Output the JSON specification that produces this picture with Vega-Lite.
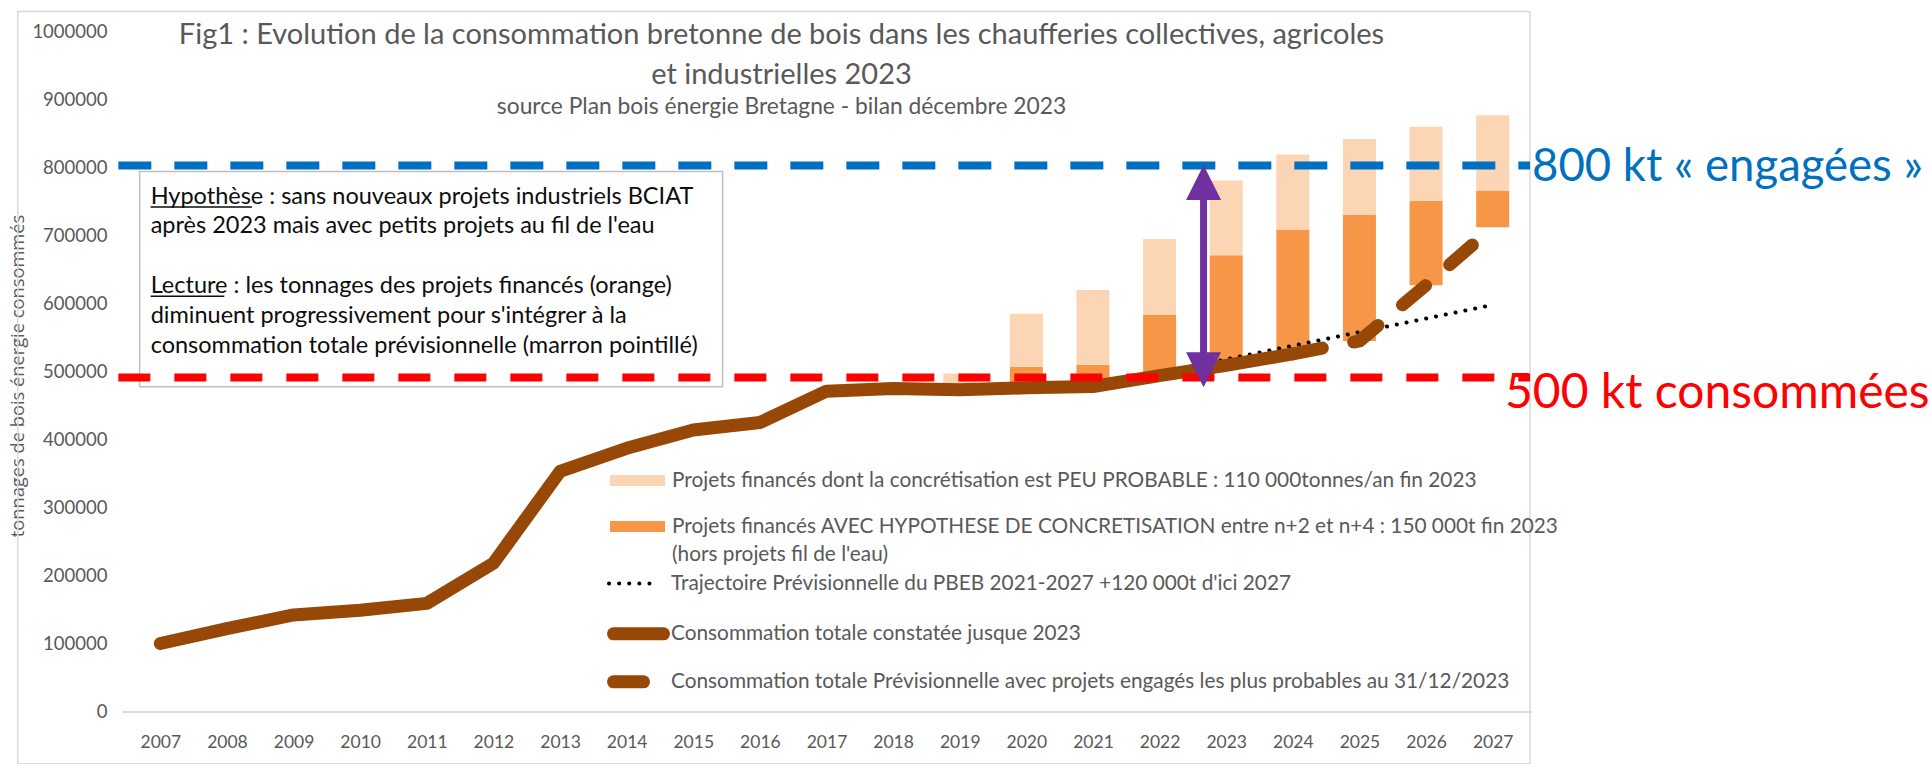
{
  "$schema": "https://vega.github.io/schema/vega-lite/v6.json",
  "width": 1409,
  "height": 680,
  "autosize": {"type": "none"},
  "padding": {"left": 122, "top": 31.5, "right": 400, "bottom": 52.5},
  "background": "white",
  "config": {"view": {"stroke": null}, "font": "Lato"},
  "title": {
    "text": ["Fig1 : Evolution de la consommation bretonne de bois dans les chaufferies collectives, agricoles", "et industrielles 2023"],
    "subtitle": "source Plan bois énergie Bretagne - bilan décembre 2023",
    "anchor": "middle",
    "frame": "group",
    "orient": "top",
    "offset": -108,
    "dx": -45,
    "font": "Lato",
    "fontSize": 29,
    "fontWeight": "normal",
    "color": "#595959",
    "lineHeight": 40.4,
    "subtitleFont": "Lato",
    "subtitleFontSize": 22.8,
    "subtitleColor": "#595959",
    "subtitlePadding": 5.6
  },
  "datasets": {
    "bars": [
      {"year": 2019, "series": "Projets financés dont la concrétisation est PEU PROBABLE : 110 000tonnes/an fin 2023", "low": 473000, "high": 497000},
      {"year": 2020, "series": "Projets financés AVEC HYPOTHESE DE CONCRETISATION entre n+2 et n+4  : 150 000t fin 2023", "low": 476000, "high": 507000},
      {"year": 2020, "series": "Projets financés dont la concrétisation est PEU PROBABLE : 110 000tonnes/an fin 2023", "low": 507000, "high": 585000},
      {"year": 2021, "series": "Projets financés AVEC HYPOTHESE DE CONCRETISATION entre n+2 et n+4  : 150 000t fin 2023", "low": 478000, "high": 510000},
      {"year": 2021, "series": "Projets financés dont la concrétisation est PEU PROBABLE : 110 000tonnes/an fin 2023", "low": 510000, "high": 620000},
      {"year": 2022, "series": "Projets financés AVEC HYPOTHESE DE CONCRETISATION entre n+2 et n+4  : 150 000t fin 2023", "low": 494000, "high": 583000},
      {"year": 2022, "series": "Projets financés dont la concrétisation est PEU PROBABLE : 110 000tonnes/an fin 2023", "low": 583000, "high": 695000},
      {"year": 2023, "series": "Projets financés AVEC HYPOTHESE DE CONCRETISATION entre n+2 et n+4  : 150 000t fin 2023", "low": 509000, "high": 671000},
      {"year": 2023, "series": "Projets financés dont la concrétisation est PEU PROBABLE : 110 000tonnes/an fin 2023", "low": 671000, "high": 781000},
      {"year": 2024, "series": "Projets financés AVEC HYPOTHESE DE CONCRETISATION entre n+2 et n+4  : 150 000t fin 2023", "low": 526000, "high": 709000},
      {"year": 2024, "series": "Projets financés dont la concrétisation est PEU PROBABLE : 110 000tonnes/an fin 2023", "low": 709000, "high": 819000},
      {"year": 2025, "series": "Projets financés AVEC HYPOTHESE DE CONCRETISATION entre n+2 et n+4  : 150 000t fin 2023", "low": 545000, "high": 730000},
      {"year": 2025, "series": "Projets financés dont la concrétisation est PEU PROBABLE : 110 000tonnes/an fin 2023", "low": 730000, "high": 842000},
      {"year": 2026, "series": "Projets financés AVEC HYPOTHESE DE CONCRETISATION entre n+2 et n+4  : 150 000t fin 2023", "low": 627000, "high": 751000},
      {"year": 2026, "series": "Projets financés dont la concrétisation est PEU PROBABLE : 110 000tonnes/an fin 2023", "low": 751000, "high": 860000},
      {"year": 2027, "series": "Projets financés AVEC HYPOTHESE DE CONCRETISATION entre n+2 et n+4  : 150 000t fin 2023", "low": 712000, "high": 766000},
      {"year": 2027, "series": "Projets financés dont la concrétisation est PEU PROBABLE : 110 000tonnes/an fin 2023", "low": 766000, "high": 877000}
    ],
    "trajectory": [
      {"year": 2021, "series": "Trajectoire Prévisionnelle du PBEB 2021-2027 +120 000t d'ici 2027", "value": 478000},
      {"year": 2022, "series": "Trajectoire Prévisionnelle du PBEB 2021-2027 +120 000t d'ici 2027", "value": 498000},
      {"year": 2023, "series": "Trajectoire Prévisionnelle du PBEB 2021-2027 +120 000t d'ici 2027", "value": 518000},
      {"year": 2024, "series": "Trajectoire Prévisionnelle du PBEB 2021-2027 +120 000t d'ici 2027", "value": 538000},
      {"year": 2025, "series": "Trajectoire Prévisionnelle du PBEB 2021-2027 +120 000t d'ici 2027", "value": 558000},
      {"year": 2026, "series": "Trajectoire Prévisionnelle du PBEB 2021-2027 +120 000t d'ici 2027", "value": 578000},
      {"year": 2027, "series": "Trajectoire Prévisionnelle du PBEB 2021-2027 +120 000t d'ici 2027", "value": 598000}
    ],
    "observed": [
      {"year": 2007, "series": "Consommation totale constatée jusque 2023", "value": 100000},
      {"year": 2008, "series": "Consommation totale constatée jusque 2023", "value": 122000},
      {"year": 2009, "series": "Consommation totale constatée jusque 2023", "value": 142000},
      {"year": 2010, "series": "Consommation totale constatée jusque 2023", "value": 149000},
      {"year": 2011, "series": "Consommation totale constatée jusque 2023", "value": 159000},
      {"year": 2012, "series": "Consommation totale constatée jusque 2023", "value": 218000},
      {"year": 2013, "series": "Consommation totale constatée jusque 2023", "value": 353000},
      {"year": 2014, "series": "Consommation totale constatée jusque 2023", "value": 387000},
      {"year": 2015, "series": "Consommation totale constatée jusque 2023", "value": 414000},
      {"year": 2016, "series": "Consommation totale constatée jusque 2023", "value": 425000},
      {"year": 2017, "series": "Consommation totale constatée jusque 2023", "value": 471000},
      {"year": 2018, "series": "Consommation totale constatée jusque 2023", "value": 475000},
      {"year": 2019, "series": "Consommation totale constatée jusque 2023", "value": 473000},
      {"year": 2020, "series": "Consommation totale constatée jusque 2023", "value": 476000},
      {"year": 2021, "series": "Consommation totale constatée jusque 2023", "value": 478000},
      {"year": 2022, "series": "Consommation totale constatée jusque 2023", "value": 494000},
      {"year": 2023, "series": "Consommation totale constatée jusque 2023", "value": 509000},
      {"year": 2024, "series": "Consommation totale constatée jusque 2023", "value": 526000}
    ],
    "forecast": [
      {"year": 2024, "series": "Consommation totale Prévisionnelle avec projets engagés les plus probables au 31/12/2023", "value": 526000},
      {"year": 2025, "series": "Consommation totale Prévisionnelle avec projets engagés les plus probables au 31/12/2023", "value": 545000},
      {"year": 2026, "series": "Consommation totale Prévisionnelle avec projets engagés les plus probables au 31/12/2023", "value": 627000},
      {"year": 2027, "series": "Consommation totale Prévisionnelle avec projets engagés les plus probables au 31/12/2023", "value": 712000}
    ]
  },
  "layer": [
    {
      "data": {"values": [{}]},
      "mark": {"type": "rect", "fill": null, "fillOpacity": 0, "stroke": "#D9D9D9", "strokeWidth": 1.5, "clip": false},
      "encoding": {
        "x": {"datum": 2004.86, "type": "quantitative"},
        "x2": {"datum": 2027.56},
        "y": {"datum": 1029400, "type": "quantitative"},
        "y2": {"datum": -77000}
      }
    },
    {
      "data": {"values": [{}]},
      "mark": {"type": "rect", "fill": "white", "stroke": "#BFBFBF", "strokeWidth": 1.5},
      "encoding": {
        "x": {"datum": 2006.69, "type": "quantitative"},
        "x2": {"datum": 2015.44},
        "y": {"datum": 794000, "type": "quantitative"},
        "y2": {"datum": 477600}
      }
    },
    {
      "data": {"name": "bars"},
      "mark": {"type": "bar", "size": 33},
      "encoding": {
        "x": {
          "field": "year", "type": "quantitative",
          "scale": {"domain": [2006.5, 2027.5], "nice": false, "zero": false},
          "axis": {
            "title": null,
            "values": [2007, 2008, 2009, 2010, 2011, 2012, 2013, 2014, 2015, 2016, 2017, 2018, 2019, 2020, 2021, 2022, 2023, 2024, 2025, 2026, 2027],
            "format": "d", "ticks": false, "grid": false,
            "domainColor": "#D9D9D9", "domainWidth": 2,
            "labelFont": "Lato", "labelFontSize": 17.5, "labelColor": "#595959",
            "labelPadding": 22, "labelFlush": false, "labelOverlap": false
          }
        },
        "y": {
          "field": "low", "type": "quantitative",
          "scale": {"domain": [0, 1000000], "nice": false},
          "axis": {
            "values": [0, 100000, 200000, 300000, 400000, 500000, 600000, 700000, 800000, 900000, 1000000],
            "format": "d", "domain": false, "ticks": false, "grid": false,
            "labelFont": "Lato", "labelFontSize": 18.5, "labelColor": "#595959", "labelPadding": 15,
            "title": "tonnages de bois énergie consommés",
            "titleFont": "Open Sans", "titleFontSize": 18.3, "titleFontWeight": "normal", "titleColor": "#595959",
            "titleX": -103.5, "titleY": 344, "titleAngle": -90, "titleBaseline": "middle", "titleAlign": "center"
          }
        },
        "y2": {"field": "high"},
        "fill": {
          "field": "series", "type": "nominal",
          "scale": {
            "domain": ["Projets financés dont la concrétisation est PEU PROBABLE : 110 000tonnes/an fin 2023", "Projets financés AVEC HYPOTHESE DE CONCRETISATION entre n+2 et n+4  : 150 000t fin 2023"],
            "range": ["#FCD5B5", "#F79646"]
          },
          "legend": {
            "title": null, "orient": "none", "legendX": 488, "legendY": 421.6,
            "symbolType": "M-1,-0.2H1V0.2H-1Z", "symbolSize": 3025, "symbolStrokeWidth": 0,
            "labelFont": "Lato", "labelFontSize": 20.8, "labelColor": "#595959",
            "labelLimit": 1300, "labelOffset": 7, "rowPadding": 8, "padding": 0,
            "labelExpr": "indexof(datum.label, 'AVEC') >= 0 ? [datum.label, \"(hors projets fil de l'eau)\"] : datum.label",
            "encode": {"labels": {"update": {"lineHeight": {"value": 28}}}}
          }
        }
      }
    },
    {
      "data": {"name": "trajectory"},
      "mark": {"type": "line", "strokeCap": "round", "strokeJoin": "round", "strokeWidth": 4, "strokeDash": [0.1, 9.9]},
      "encoding": {
        "x": {"field": "year", "type": "quantitative"},
        "y": {"field": "value", "type": "quantitative"},
        "color": {
          "field": "series", "type": "nominal",
          "scale": {"domain": ["Trajectoire Prévisionnelle du PBEB 2021-2027 +120 000t d'ici 2027"], "range": ["#000000"]},
          "legend": {
            "title": null, "orient": "none", "legendX": 485, "legendY": 525,
            "symbolType": "stroke", "symbolSize": 2500, "symbolStrokeWidth": 4, "symbolDash": [0.1, 10],
            "labelFont": "Lato", "labelFontSize": 20.8, "labelColor": "#595959",
            "labelLimit": 1300, "labelOffset": 10, "padding": 0,
            "encode": {"symbols": {"update": {"strokeCap": {"value": "round"}}}}
          }
        }
      }
    },
    {
      "data": {"name": "observed"},
      "mark": {"type": "line", "strokeCap": "round", "strokeJoin": "round", "strokeWidth": 13},
      "encoding": {
        "x": {"field": "year", "type": "quantitative"},
        "y": {"field": "value", "type": "quantitative"},
        "stroke": {
          "field": "series", "type": "nominal",
          "scale": {"domain": ["Consommation totale constatée jusque 2023"], "range": ["#974806"]},
          "legend": {
            "title": null, "orient": "none", "legendX": 485, "legendY": 570.8,
            "symbolType": "stroke", "symbolSize": 2500, "symbolStrokeWidth": 13,
            "labelFont": "Lato", "labelFontSize": 20.8, "labelColor": "#595959",
            "labelLimit": 1300, "labelOffset": 1, "padding": 0,
            "encode": {"symbols": {"update": {"strokeCap": {"value": "round"}}}}
          }
        }
      }
    },
    {
      "data": {"name": "forecast"},
      "mark": {"type": "line", "strokeCap": "round", "strokeJoin": "round", "strokeWidth": 13, "color": "#974806"},
      "encoding": {
        "x": {"field": "year", "type": "quantitative"},
        "y": {"field": "value", "type": "quantitative"},
        "strokeDash": {
          "field": "series", "type": "nominal",
          "scale": {"domain": ["Consommation totale Prévisionnelle avec projets engagés les plus probables au 31/12/2023"], "range": [[30, 32]]},
          "legend": {
            "title": null, "orient": "none", "legendX": 485, "legendY": 618.8,
            "symbolType": "stroke", "symbolSize": 2500, "symbolStrokeWidth": 13, "symbolStrokeColor": "#974806",
            "labelFont": "Lato", "labelFontSize": 20.8, "labelColor": "#595959",
            "labelLimit": 1300, "labelOffset": 1, "padding": 0,
            "encode": {"symbols": {"update": {
              "strokeCap": {"value": "round"},
              "stroke": {"value": "#974806"},
              "strokeDash": {"value": [12, 23]}
            }}}
          }
        }
      }
    },
    {
      "data": {"values": [{}]},
      "mark": {"type": "rule", "color": "#0070C0", "strokeWidth": 8, "strokeDash": [33, 23], "clip": false},
      "encoding": {"x": {"datum": 2006.37}, "x2": {"datum": 2027.56}, "y": {"datum": 803000}}
    },
    {
      "data": {"values": [{}]},
      "mark": {"type": "rule", "color": "#FF0000", "strokeWidth": 8, "strokeDash": [32, 24], "clip": false},
      "encoding": {"x": {"datum": 2006.37}, "x2": {"datum": 2027.56}, "y": {"datum": 491000}}
    },
    {
      "data": {"values": [{}]},
      "mark": {"type": "rule", "color": "#7030A0", "strokeWidth": 7},
      "encoding": {"x": {"datum": 2022.66}, "y": {"datum": 502600}, "y2": {"datum": 777800}}
    },
    {
      "data": {"values": [{}]},
      "mark": {"type": "point", "shape": "M0,-1L1,1L-1,1Z", "size": 1225, "filled": true, "color": "#7030A0", "opacity": 1, "strokeWidth": 0},
      "encoding": {"x": {"datum": 2022.66}, "y": {"datum": 777800}}
    },
    {
      "data": {"values": [{}]},
      "mark": {"type": "point", "shape": "M0,1L1,-1L-1,-1Z", "size": 1225, "filled": true, "color": "#7030A0", "opacity": 1, "strokeWidth": 0},
      "encoding": {"x": {"datum": 2022.66}, "y": {"datum": 502600}}
    },
    {
      "data": {"values": [{}]},
      "mark": {"type": "text", "text": "800 kt « engagées »", "align": "left", "baseline": "alphabetic", "dx": 6, "dy": 16, "font": "Lato", "fontSize": 45.5, "color": "#0070C0", "clip": false},
      "encoding": {"x": {"datum": 2027.5}, "y": {"datum": 803000}}
    },
    {
      "data": {"values": [{}]},
      "mark": {"type": "text", "text": "500 kt consommées", "align": "left", "baseline": "alphabetic", "dx": -21, "dy": 30, "font": "Lato", "fontSize": 48, "color": "#FF0000", "clip": false},
      "encoding": {"x": {"datum": 2027.5}, "y": {"datum": 491000}}
    },
    {
      "data": {"values": [{}]},
      "mark": {
        "type": "text",
        "text": ["Hypothèse : sans nouveaux projets industriels BCIAT", "après 2023 mais avec petits projets au fil de l'eau"],
        "align": "left", "baseline": "alphabetic", "lineHeight": 29.8,
        "font": "Lato", "fontSize": 23.5, "color": "#0d0d0d"
      },
      "encoding": {"x": {"datum": 2006.855}, "y": {"datum": 746900}}
    },
    {
      "data": {"values": [{}]},
      "mark": {
        "type": "text",
        "text": ["Lecture : les tonnages des projets financés (orange)", "diminuent progressivement pour s'intégrer à la", "consommation totale prévisionnelle (marron pointillé)"],
        "align": "left", "baseline": "alphabetic", "lineHeight": 30.2,
        "font": "Lato", "fontSize": 23.5, "color": "#0d0d0d"
      },
      "encoding": {"x": {"datum": 2006.855}, "y": {"datum": 615300}}
    },
    {
      "data": {"values": [{}]},
      "mark": {"type": "rule", "color": "#0d0d0d", "strokeWidth": 1.5},
      "encoding": {"x": {"datum": 2006.855}, "x2": {"datum": 2008.375}, "y": {"datum": 742000}}
    },
    {
      "data": {"values": [{}]},
      "mark": {"type": "rule", "color": "#0d0d0d", "strokeWidth": 1.5},
      "encoding": {"x": {"datum": 2006.855}, "x2": {"datum": 2007.96}, "y": {"datum": 610500}}
    }
  ]
}
